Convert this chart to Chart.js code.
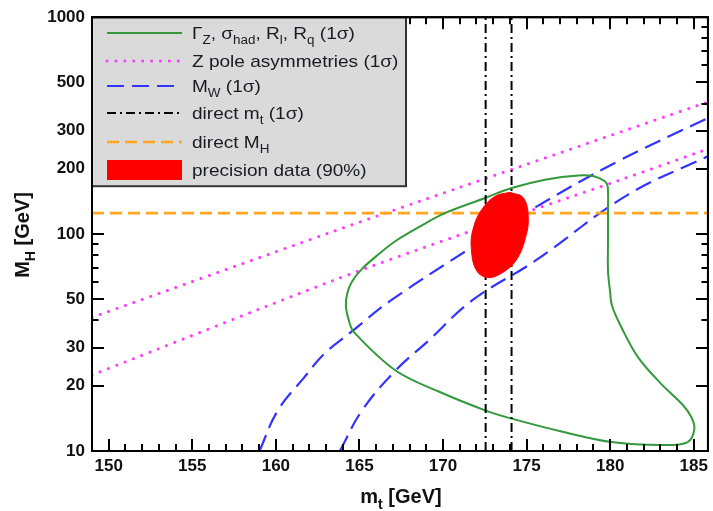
<!DOCTYPE html>
<html><head><meta charset="utf-8">
<script src="https://cdn.jsdelivr.net/npm/chart.js@4.4.1/dist/chart.umd.min.js"></script>
<style>html,body{margin:0;padding:0;background:#fff;}#wrap{width:713px;height:511px;position:relative;}#ov{position:absolute;left:0;top:0;pointer-events:none;}</style>
</head><body><div id="wrap"><canvas id="c" width="713" height="511"></canvas><canvas id="ov" width="713" height="511"></canvas></div>
<script>
// ---- axis ranges & ticks ----
const mtMin = 149, mtMax = 185.85;
const mhMin = 10, mhMax = 1000;
const mtTickValues = [150,151,152,153,154,155,156,157,158,159,160,161,162,163,164,165,166,167,168,169,170,171,172,173,174,175,176,177,178,179,180,181,182,183,184,185];
const mtLabelValues = [150,155,160,165,170,175,180,185];
const mhTickValues = [10,20,30,40,50,60,70,80,90,100,200,300,400,500,600,700,800,900,1000];
const mhLabelValues = [10,20,30,50,100,200,300,500,1000];

// ---- data ----
const greenMt = [179.87,179.87,179.99,180.11,180.67,181.66,183.05,184.35,184.84,185.04,184.64,183.05,180.07,177.09,174.11,172.52,169.74,167.16,164.67,164.37,164.19,164.28,164.55,165.15,166.16,167.16,168.55,170.14,172.52,174.11,176.10,178.09,179.08,179.68,179.85,179.87,179.87];
const greenMH = [92.9,67.7,54.8,46.7,37.2,27.1,20.4,16.3,14.4,12.7,11.0,10.65,11.0,12.3,14.1,15.4,18.8,23.5,35.3,39.9,46.7,53.6,60.3,69.1,80.9,92.9,107.7,125.2,146.7,163.1,178.2,186.5,184.5,175.1,166.0,127.5,92.9];

const zUpperMt = [149.0,163.48,170.81,185.42,185.85];
const zUpperMH = [41.3,103.2,162.2,396,406];
const zLowerMt = [149.0,163.48,170.81,180.65,185.42,185.85];
const zLowerMH = [22.4,61.3,97.9,178.2,240.3,246.7];

const mwLeftMt = [159.02,160.12,161.71,162.90,164.49,166.86,171.53,175.30,180.45,185.85];
const mwLeftMH = [10,15.4,21.9,28.1,35.3,49.3,85.1,129.8,216.2,343];
const mwRightMt = [163.83,165.16,167.16,169.14,171.72,175.50,181.07,185.85];
const mwRightMH = [10,15.4,23.5,32.3,49.3,75.2,152.1,228.5];

const directMt = [172.55,174.10];
const directMH = 125;

const precMt = [174.01,174.81,175.10,174.91,174.41,173.72,172.75,172.02,171.69,171.82,172.32,173.12,174.01];
const precMH = [155.8,146.7,118.8,94.6,76.5,67.7,63.0,67.7,86.6,106.9,129.8,149.4,155.8];

const legendLabels = [
  [{t:'Γ'},{t:'Z',sub:1},{t:', σ'},{t:'had',sub:1},{t:', R'},{t:'l',sub:1},{t:', R'},{t:'q',sub:1},{t:' (1σ)'}],
  [{t:'Z pole asymmetries (1σ)'}],
  [{t:'M'},{t:'W',sub:1},{t:' (1σ)'}],
  [{t:'direct m'},{t:'t',sub:1},{t:' (1σ)'}],
  [{t:'direct M'},{t:'H',sub:1}],
  [{t:'precision data (90%)'}]
];
const xTitle = [{t:'m'},{t:'t',sub:1},{t:' [GeV]'}];
const yTitle = [{t:'M'},{t:'H',sub:1},{t:' [GeV]'}];

// ---- styles ----
const GREEN = '#33993a', MAG = '#ff3cff', BLUE = '#3333ff', BLACK = '#000', ORANGE = '#ffa51e', RED = '#ff0000';
const FONT = '"Liberation Sans", Arial, Helvetica, sans-serif';
const LEGEND_W = 314, LEGEND_H = 169;

function pts(xs, ys){ return xs.map((x,i)=>({x:x, y:ys[i]})); }

const styles = {
  green: {color: GREEN, width: 2, dash: []},
  mag: {color: MAG, width: 3, dash: [0.1, 8.8], cap: 'round'},
  blue: {color: BLUE, width: 2.2, dash: [17, 8]},
  black: {color: BLACK, width: 2, dash: [9, 4, 2, 4]},
  orange: {color: ORANGE, width: 2.6, dash: [12, 6]}
};

function lineDs(data, st, order, tension){
  return {data: data, borderColor: st.color, borderWidth: st.width, borderDash: st.dash,
    borderCapStyle: st.cap || 'butt', pointRadius: 0, fill: false, tension: tension || 0, order: order};
}

const datasets = [
  {data: pts(precMt, precMH), borderColor: RED, backgroundColor: RED, borderWidth: 1,
    pointRadius: 0, fill: 'shape', tension: 0.4, order: 0},
  lineDs(pts([directMt[0],directMt[0]],[mhMin,mhMax]), styles.black, 1),
  lineDs(pts([directMt[1],directMt[1]],[mhMin,mhMax]), styles.black, 1),
  lineDs(pts(greenMt, greenMH), styles.green, 2, 0.35),
  lineDs(pts([mtMin,mtMax],[directMH,directMH]), styles.orange, 3),
  lineDs(pts(mwLeftMt, mwLeftMH), styles.blue, 4, 0.4),
  lineDs(pts(mwRightMt, mwRightMH), styles.blue, 4, 0.4),
  lineDs(pts(zUpperMt, zUpperMH), styles.mag, 5, 0.3),
  lineDs(pts(zLowerMt, zLowerMH), styles.mag, 5, 0.3)
];

function richWidth(ctx, parts, size, weight){
  let w = 0;
  for (const p of parts){
    ctx.font = `${weight} ${p.sub ? Math.round(size*0.72) : size}px ${FONT}`;
    w += ctx.measureText(p.t).width;
  }
  return w;
}
function drawRich(ctx, parts, x, y, size, weight, sx, color){
  ctx.save();
  ctx.translate(x, y);
  ctx.scale(sx, 1);
  ctx.fillStyle = color;
  ctx.textBaseline = 'alphabetic';
  ctx.textAlign = 'left';
  let cx = 0;
  for (const p of parts){
    const fs = p.sub ? Math.round(size*0.72) : size;
    ctx.font = `${weight} ${fs}px ${FONT}`;
    ctx.fillText(p.t, cx, p.sub ? size*0.3 : 0);
    cx += ctx.measureText(p.t).width;
  }
  ctx.restore();
}

// tick marks drawn on a separate overlay canvas, positioned by the chart's own scales
function drawTicksOverlay(chart){
  const ov = document.getElementById('ov');
  const octx = ov.getContext('2d');
  octx.setTransform(1, 0, 0, 1, 0, 0);
  octx.clearRect(0, 0, ov.width, ov.height);
  const a = chart.chartArea;
  const xs = chart.scales.x, ys = chart.scales.y;
  const legRight = a.left + LEGEND_W, legBottom = a.top + LEGEND_H;
  octx.fillStyle = '#000';
  for (const v of mtTickValues){
    const px = Math.round(xs.getPixelForValue(v));
    const len = mtLabelValues.includes(v) ? 12 : 7;
    octx.fillRect(px - 1, a.bottom - len, 2, len);
    if (px > legRight + 1) octx.fillRect(px - 1, a.top, 2, len);
  }
  for (const v of mhTickValues){
    const py = Math.round(ys.getPixelForValue(v));
    const len = mhLabelValues.includes(v) ? 12 : 6.5;
    if (py > legBottom + 1) octx.fillRect(a.left, py - 1, len, 2);
    octx.fillRect(a.right - len, py - 1, len, 2);
  }
  octx.strokeStyle = '#000';
  octx.lineWidth = 2;
  octx.strokeRect(a.left, a.top, a.right - a.left, a.bottom - a.top);
}

const decorPlugin = {
  id: 'decor',
  afterDatasetsDraw(chart){
    const ctx = chart.ctx;
    const a = chart.chartArea;
    const bx = a.left, by = a.top;
    ctx.save();
    ctx.fillStyle = '#dadada';
    ctx.fillRect(bx, by, LEGEND_W, LEGEND_H);
    ctx.strokeStyle = '#333';
    ctx.lineWidth = 2;
    ctx.setLineDash([]);
    ctx.strokeRect(bx, by, LEGEND_W, LEGEND_H);
    const rows = [33, 61, 86, 113, 142, 170];
    const sampleStyles = [styles.green, styles.mag, styles.blue, styles.black, styles.orange];
    for (let i = 0; i < rows.length; i++){
      const ry = rows[i];
      if (i < 5){
        const st = sampleStyles[i];
        ctx.save();
        ctx.strokeStyle = st.color; ctx.lineWidth = st.width;
        ctx.setLineDash(st.dash); ctx.lineCap = st.cap || 'butt';
        ctx.beginPath(); ctx.moveTo(107, ry); ctx.lineTo(182, ry); ctx.stroke();
        ctx.restore();
      } else {
        ctx.fillStyle = RED;
        ctx.fillRect(107, ry - 10, 75, 20);
      }
      drawRich(ctx, legendLabels[i], 192, ry + 6, 17, 'normal', 1.12, '#1a1a22');
    }
    ctx.restore();
  },
  afterDraw(chart){
    const ctx = chart.ctx;
    const a = chart.chartArea;
    ctx.save();
    ctx.setLineDash([]);
    ctx.strokeStyle = '#000';
    ctx.lineWidth = 2;
    ctx.strokeRect(a.left, a.top, a.right - a.left, a.bottom - a.top);
    const xw = richWidth(ctx, xTitle, 20, 'bold');
    drawRich(ctx, xTitle, (a.left + a.right)/2 + 1 - xw/2, 503, 20, 'bold', 1, '#111');
    ctx.save();
    ctx.translate(29, 235);
    ctx.rotate(-Math.PI/2);
    const yw = richWidth(ctx, yTitle, 20, 'bold');
    drawRich(ctx, yTitle, -yw/2, 0, 20, 'bold', 1, '#111');
    ctx.restore();
    ctx.restore();
    drawTicksOverlay(chart);
  }
};

new Chart(document.getElementById('c'), {
  type: 'line',
  data: {datasets: datasets},
  options: {
    responsive: false,
    devicePixelRatio: 1,
    animation: false,
    events: [],
    layout: {padding: {top: 15, right: 3, left: 0, bottom: 0}},
    plugins: {legend: {display: false}, tooltip: {enabled: false}, title: {display: false}},
    scales: {
      x: {
        type: 'linear', min: mtMin, max: mtMax,
        grid: {display: false, drawTicks: false},
        border: {display: false},
        afterFit(s){ s.height = 60; },
        afterBuildTicks(s){ s.ticks = mtTickValues.map(v => ({value: v})); },
        ticks: {autoSkip: false, maxRotation: 0, padding: 5, color: '#111',
          font: {family: FONT, size: 17, weight: 'bold'},
          callback: v => mtLabelValues.includes(v) ? String(v) : ''}
      },
      y: {
        type: 'logarithmic', min: mhMin, max: mhMax,
        grid: {display: false, drawTicks: false},
        border: {display: false},
        afterFit(s){ s.width = 92; },
        afterBuildTicks(s){ s.ticks = mhTickValues.map(v => ({value: v})); },
        ticks: {autoSkip: false, padding: 7, color: '#111',
          font: {family: FONT, size: 17, weight: 'bold'},
          callback: v => mhLabelValues.includes(v) ? String(v) : ''}
      }
    }
  },
  plugins: [decorPlugin]
});
</script></body></html>
